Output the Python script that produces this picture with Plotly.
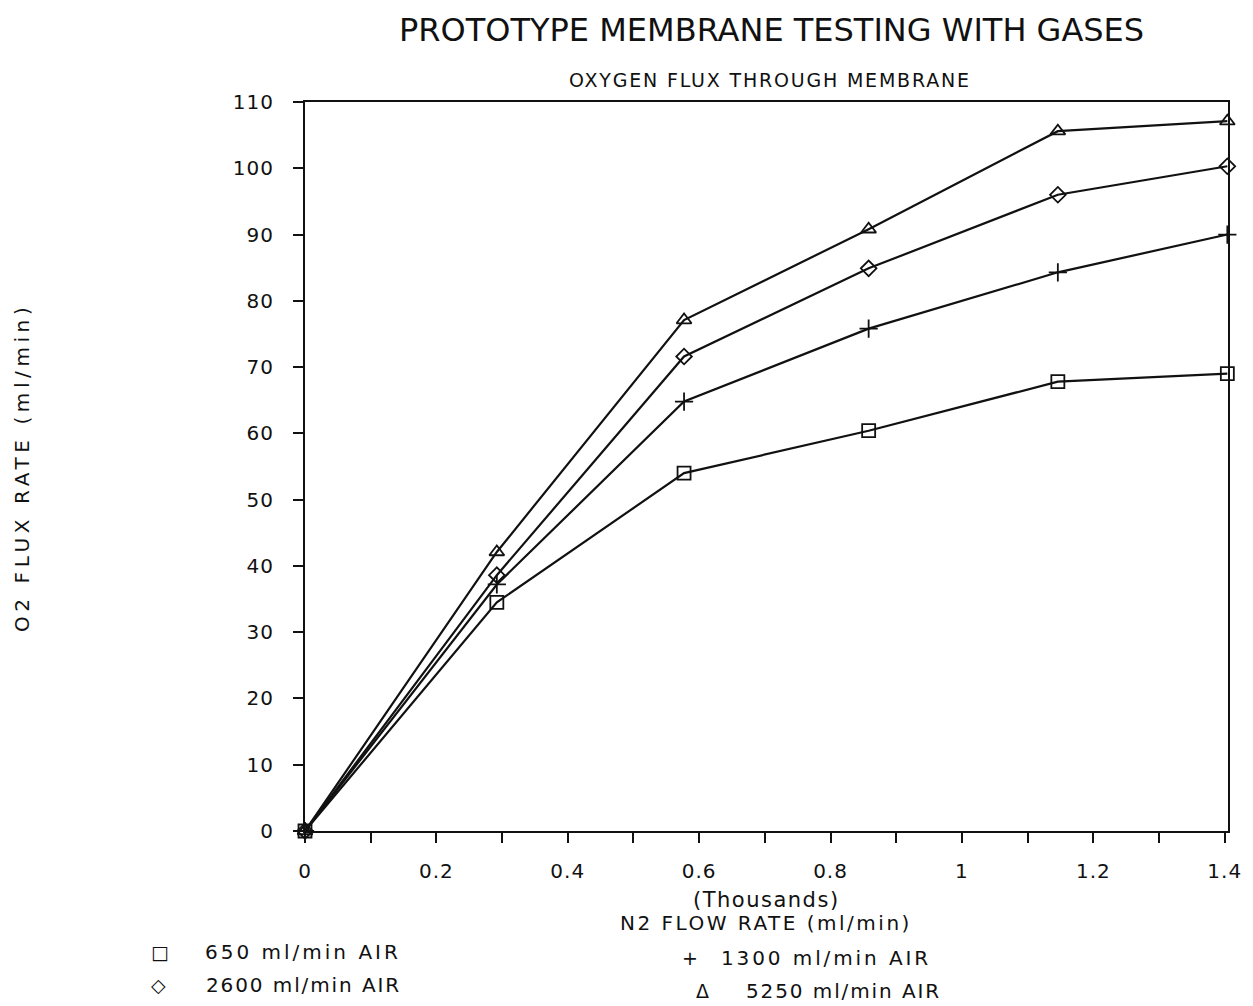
import plotly.graph_objects as go

# N2 flow rate (thousands of ml/min) and O2 flux for each air feed rate
n2_flow = [0.0, 0.292, 0.577, 0.858, 1.146, 1.404]
o2_650 = [0.0, 34.5, 54.0, 60.4, 67.8, 69.0]
o2_1300 = [0.0, 37.2, 64.8, 75.8, 84.3, 90.0]
o2_2600 = [0.0, 38.6, 71.6, 84.9, 96.0, 100.3]
o2_5250 = [0.0, 42.1, 77.1, 90.8, 105.6, 107.1]

series_names = ["650 ml/min AIR", "1300 ml/min AIR", "2600 ml/min AIR", "5250 ml/min AIR"]
series_symbols = ["square-open", "cross-thin-open", "diamond-open", "triangle-up-open"]
series_sizes = [13, 13, 12, 13]
series_values = [o2_650, o2_1300, o2_2600, o2_5250]

x_tick_vals = [round(i * 0.1, 1) for i in range(15)]
x_tick_text = ["0", "", "0.2", "", "0.4", "", "0.6", "", "0.8", "", "1", "", "1.2", "", "1.4"]
y_tick_vals = list(range(0, 111, 10))

W, H = 1253, 1006
L, R, T, B = 305, 25, 102, 175
PW, PH = W - L - R, H - T - B

FONT = "DejaVu Sans"
INK = "#111111"


def px(x):
    return (x - L) / PW


def py(y):
    return (H - B - y) / PH


def spaced(text, gap):
    """Wrap text in a span with extra letter spacing (plotter-style lettering)."""
    return f'<span style="letter-spacing:{gap}px">{text}</span>'


fig = go.Figure()
for name, sym, size, vals in zip(series_names, series_symbols, series_sizes, series_values):
    fig.add_trace(go.Scatter(
        x=n2_flow, y=vals, name=name, mode="lines+markers",
        line=dict(color=INK, width=2.2),
        marker=dict(symbol=sym, size=size, color=INK, line=dict(color=INK, width=1.8)),
        cliponaxis=False,
    ))

axis_common = dict(
    showline=True, linecolor=INK, linewidth=2, mirror=True,
    showgrid=False, zeroline=False, ticks="outside", ticklen=10,
    tickwidth=2, tickcolor=INK,
    tickfont=dict(family=FONT, size=20, color=INK),
)

fig.update_layout(
    width=W, height=H,
    margin=dict(l=L, r=R, t=T, b=B),
    paper_bgcolor="white", plot_bgcolor="white",
    showlegend=False,
    xaxis=dict(range=[0, 1.405], tickvals=x_tick_vals,
               ticktext=[spaced(t, 1) if t else "" for t in x_tick_text],
               ticklabelstandoff=11, **axis_common),
    yaxis=dict(range=[0, 110], tickvals=y_tick_vals,
               ticktext=[spaced(str(v), 1) for v in y_tick_vals],
               ticklabelstandoff=15, **axis_common),
)

annotations = [
    dict(text="PROTOTYPE MEMBRANE TESTING WITH GASES", x=px(771), y=py(30),
         font=dict(family=FONT, size=32, color=INK)),
    dict(text=spaced("OXYGEN FLUX THROUGH MEMBRANE", 1.8), x=px(770), y=py(80),
         font=dict(family=FONT, size=19, color=INK)),
    dict(text=spaced("(Thousands)", 1.5), x=px(766), y=py(900),
         font=dict(family=FONT, size=21, color=INK)),
    dict(text=spaced("N2 FLOW RATE (ml/min)", 2.5), x=px(766), y=py(923),
         font=dict(family=FONT, size=20, color=INK)),
    dict(text=spaced("O2 FLUX RATE (ml/min)", 4.6), x=px(22), y=py(468), textangle=-90,
         font=dict(family=FONT, size=20, color=INK)),
]

# legend block below the axis: symbol glyph + label
legend_items = [
    ("□", 160, 952, 203, "650 ml/min AIR", 3),
    ("◇", 158, 985, 204, "2600 ml/min AIR", 1.9),
    ("+", 690, 958, 719, "1300 ml/min AIR", 2.9),
    ("Δ", 702, 991, 744, "5250 ml/min AIR", 1.9),
]
for glyph, gx, gy, tx, label, gap in legend_items:
    annotations.append(dict(text=glyph, x=px(gx), y=py(gy),
                            font=dict(family=FONT, size=19, color=INK)))
    annotations.append(dict(text=spaced(label, gap), x=px(tx), y=py(gy), xanchor="left",
                            font=dict(family=FONT, size=20, color=INK)))

for a in annotations:
    a.setdefault("xanchor", "center")
    a.update(xref="paper", yref="paper", yanchor="middle", showarrow=False)
fig.update_layout(annotations=annotations)

fig.write_html("out.html")
